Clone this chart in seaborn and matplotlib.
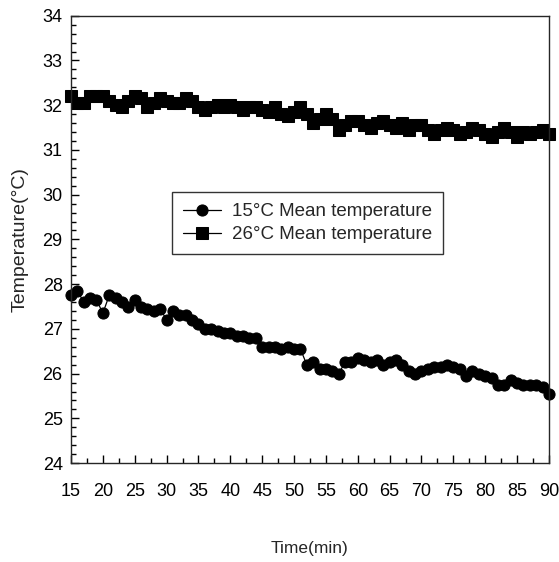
import numpy as np
import pandas as pd
import matplotlib
matplotlib.use("Agg")
import matplotlib.pyplot as plt
from matplotlib.ticker import MultipleLocator
import seaborn as sns

# Sampling times (one reading per minute)
minutes = list(range(15, 91))

# Mean temperature for the 15 °C set-point run
temp_15 = [
    27.75, 27.85, 27.60, 27.70, 27.65, 27.35, 27.75, 27.70, 27.60, 27.50,
    27.65, 27.50, 27.45, 27.40, 27.45, 27.20, 27.40, 27.30, 27.30, 27.20,
    27.10, 27.00, 27.00, 26.95, 26.90, 26.90, 26.85, 26.85, 26.80, 26.80,
    26.60, 26.60, 26.60, 26.55, 26.60, 26.55, 26.55, 26.20, 26.25, 26.10,
    26.10, 26.05, 26.00, 26.25, 26.25, 26.35, 26.30, 26.25, 26.30, 26.20,
    26.25, 26.30, 26.20, 26.05, 26.00, 26.05, 26.10, 26.15, 26.15, 26.20,
    26.15, 26.10, 25.95, 26.05, 26.00, 25.95, 25.90, 25.75, 25.75, 25.85,
    25.80, 25.75, 25.75, 25.75, 25.70, 25.55,
]

# Mean temperature for the 26 °C set-point run
temp_26 = [
    32.20, 32.05, 32.05, 32.20, 32.20, 32.20, 32.10, 32.00, 31.95, 32.10,
    32.20, 32.15, 31.95, 32.05, 32.15, 32.10, 32.05, 32.05, 32.15, 32.10,
    31.95, 31.90, 31.95, 32.00, 31.95, 32.00, 31.95, 31.90, 31.95, 31.95,
    31.90, 31.85, 31.95, 31.80, 31.75, 31.85, 31.95, 31.80, 31.60, 31.70,
    31.80, 31.70, 31.45, 31.55, 31.65, 31.65, 31.55, 31.50, 31.60, 31.65,
    31.55, 31.50, 31.60, 31.45, 31.55, 31.55, 31.45, 31.35, 31.45, 31.50,
    31.45, 31.35, 31.40, 31.50, 31.45, 31.35, 31.30, 31.40, 31.50, 31.40,
    31.30, 31.40, 31.35, 31.40, 31.45, 31.35,
]

series_names = ["15\u00b0C Mean temperature", "26\u00b0C Mean temperature"]

df = pd.DataFrame({
    "Time": minutes * 2,
    "Temperature": temp_15 + temp_26,
    "Series": [series_names[0]] * len(minutes) + [series_names[1]] * len(minutes),
})

sns.set_style("ticks")
plt.rcParams["font.family"] = ["Liberation Sans", "DejaVu Sans"]
plt.rcParams["axes.linewidth"] = 1.0

fig = plt.figure(figsize=(5.59, 5.62), dpi=100)
ax = fig.add_axes([0.127, 0.176, 0.855, 0.796])

sns.lineplot(
    data=df, x="Time", y="Temperature", hue="Series", style="Series",
    palette=["black", "black"], markers=["o", "s"], dashes=False,
    markersize=8, markeredgecolor="black", linewidth=0.9, ax=ax,
)
for ln in ax.lines:
    ln.set_clip_on(False)

ax.set_xlim(15, 90)
ax.set_ylim(24, 34)
ax.xaxis.set_major_locator(MultipleLocator(5))
ax.xaxis.set_minor_locator(MultipleLocator(2.5))
ax.yaxis.set_major_locator(MultipleLocator(1))
ax.yaxis.set_minor_locator(MultipleLocator(0.2))
ax.tick_params(which="both", direction="in", top=False, right=False,
               labelsize=13, colors="black")
ax.tick_params(which="major", length=6, width=1)
ax.tick_params(which="minor", length=3.5, width=1)
ax.tick_params(axis="x", pad=14)
ax.tick_params(axis="y", pad=6)

ax.set_xlabel("Time(min)", fontsize=12.5, labelpad=30)
ax.set_ylabel("Temperature(\u00b0C)", fontsize=14, labelpad=10)

leg = ax.legend(loc="upper left", bbox_to_anchor=(0.211, 0.606), fontsize=13.5,
                frameon=True, fancybox=False, edgecolor="black",
                handlelength=2.0, handletextpad=0.6, borderpad=0.6,
                labelspacing=0.3, borderaxespad=0)
leg.get_frame().set_linewidth(1.0)

fig.savefig("out.png", dpi=100, facecolor="white")
